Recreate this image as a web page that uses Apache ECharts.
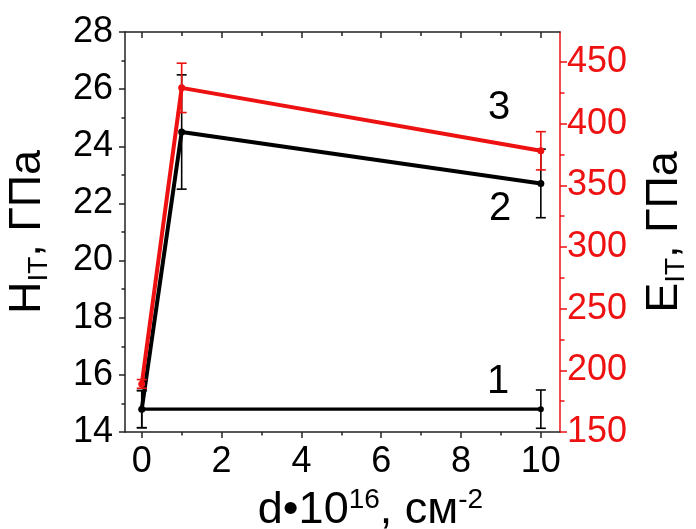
<!DOCTYPE html>
<html>
<head>
<meta charset="utf-8">
<script src="https://cdn.jsdelivr.net/npm/echarts@6/dist/echarts.min.js"></script>
<style>html,body{margin:0;padding:0;background:#fff}#c{width:696px;height:529px}</style>
</head>
<body>
<div id="c"></div>
<script>
// ---- data ----
const dose1 = [0, 10];              // curve 1 x (d·10^16, cm^-2)
const hard1 = [14.8, 14.8];         // curve 1 H_IT, GPa
const hard1Err = [0.65, 0.67];
const dose = [0, 1, 10];            // curves 2 & 3 x
const hard2 = [14.8, 24.5, 22.7];   // curve 2 H_IT, GPa
const hard2Err = [0.65, 2.0, 1.2];
const mod3 = [189, 429, 378];       // curve 3 E_IT, GPa
const mod3Err = [3.5, 20, 15.5];
const xTicks = [0, 2, 4, 6, 8, 10];
const xMinor = [1, 3, 5, 7, 9];
const eTicks = [150, 200, 250, 300, 350, 400, 450];
const eMinor = [175, 225, 275, 325, 375, 425];
const curveTags = ['1', '2', '3'];

const FONT = "'Liberation Sans', Arial, sans-serif";
const RED = '#ee1111';
const BLACK = '#000';

function pairs(xs, ys) { return xs.map((x, i) => [x, ys[i]]); }
function triples(xs, ys, es) { return xs.map((x, i) => [x, ys[i], es[i]]); }

function errRenderer(color) {
  return function (params, api) {
    const x = api.value(0), y = api.value(1), e = api.value(2);
    const t = api.coord([x, y + e]);
    const b = api.coord([x, y - e]);
    const c = 5;
    const st = { stroke: color, lineWidth: 1.6 };
    return {
      type: 'group',
      children: [
        { type: 'line', shape: { x1: t[0], y1: t[1], x2: b[0], y2: b[1] }, style: st },
        { type: 'line', shape: { x1: t[0] - c, y1: t[1], x2: t[0] + c, y2: t[1] }, style: st },
        { type: 'line', shape: { x1: b[0] - c, y1: b[1], x2: b[0] + c, y2: b[1] }, style: st }
      ]
    };
  };
}

const chart = echarts.init(document.getElementById('c'), null, { renderer: 'canvas' });

const xRange = { min: -0.42, max: 10.48 };
const TICKC = '#222';

const option = {
  animation: false,
  backgroundColor: '#fff',
  textStyle: { fontFamily: FONT },
  grid: { left: 125, right: 136, top: 32, bottom: 97, containLabel: false, outerBoundsMode: 'none' },
  xAxis: [
    {
      type: 'value', position: 'bottom', ...xRange,
      axisLine: { show: true, onZero: false, lineStyle: { color: TICKC, width: 1.5 } },
      axisTick: { show: true, inside: false, length: 6, customValues: xTicks, lineStyle: { color: TICKC, width: 1.5 } },
      axisLabel: { show: true, customValues: xTicks, fontSize: 36, color: BLACK, fontFamily: FONT, margin: 12 },
      splitLine: { show: false },
      name: '{m|d•10}{s|16}{m|, см}{s|-2}',
      nameLocation: 'middle', nameGap: 54,
      nameTextStyle: {
        padding: [0, 0, 0, 56],
        rich: {
          m: { fontSize: 45, fontFamily: FONT, color: BLACK, lineHeight: 50 },
          s: { fontSize: 28, fontFamily: FONT, color: BLACK, verticalAlign: 'top', lineHeight: 30 }
        }
      }
    },
    {
      type: 'value', position: 'bottom', ...xRange,
      axisLine: { show: false, onZero: false },
      axisTick: { show: true, inside: false, length: 3.5, customValues: xMinor, lineStyle: { color: TICKC, width: 1.5 } },
      axisLabel: { show: false }, splitLine: { show: false }
    },
    {
      type: 'value', position: 'top', ...xRange,
      axisLine: { show: true, onZero: false, lineStyle: { color: TICKC, width: 1.5 } },
      axisTick: { show: true, inside: true, length: 6, customValues: xTicks, lineStyle: { color: TICKC, width: 1.5 } },
      axisLabel: { show: false }, splitLine: { show: false }
    },
    {
      type: 'value', position: 'top', ...xRange,
      axisLine: { show: false, onZero: false },
      axisTick: { show: true, inside: true, length: 4, customValues: xMinor, lineStyle: { color: TICKC, width: 1.5 } },
      axisLabel: { show: false }, splitLine: { show: false }
    }
  ],
  yAxis: [
    {
      type: 'value', position: 'left', min: 14, max: 28, interval: 2,
      axisLine: { show: true, onZero: false, lineStyle: { color: TICKC, width: 1.5 } },
      axisTick: { show: true, inside: false, length: 6, lineStyle: { color: TICKC, width: 1.5 } },
      minorTick: { show: true, splitNumber: 2, length: 3.5, lineStyle: { color: TICKC, width: 1.5 } },
      axisLabel: { fontSize: 36, color: BLACK, fontFamily: FONT, margin: 12 },
      splitLine: { show: false },
      name: '{m|H}{sub|IT}{m|, ГПа}',
      nameLocation: 'middle', nameRotate: 90, nameGap: 72,
      nameTextStyle: {
        rich: {
          m: { fontSize: 45, fontFamily: FONT, color: BLACK, lineHeight: 50 },
          sub: { fontSize: 28, fontFamily: FONT, color: BLACK, verticalAlign: 'bottom', lineHeight: 30 }
        }
      }
    },
    {
      type: 'value', position: 'right', min: 150, max: 474.3,
      axisLine: { show: true, onZero: false, lineStyle: { color: RED, width: 1.5 } },
      axisTick: { show: true, inside: false, length: 7, customValues: eTicks, lineStyle: { color: RED, width: 1.5 } },
      axisLabel: { customValues: eTicks, fontSize: 36, color: RED, fontFamily: FONT, margin: 7 },
      splitLine: { show: false },
      name: '{m|E}{sub|IT}{m|, ГПа}',
      nameLocation: 'middle', nameRotate: 90, nameGap: 80,
      nameTextStyle: {
        rich: {
          m: { fontSize: 45, fontFamily: FONT, color: BLACK, lineHeight: 50 },
          sub: { fontSize: 28, fontFamily: FONT, color: BLACK, verticalAlign: 'bottom', lineHeight: 30 }
        }
      }
    },
    {
      type: 'value', position: 'right', min: 150, max: 474.3,
      axisLine: { show: false, onZero: false },
      axisTick: { show: true, inside: false, length: 4.5, customValues: eMinor, lineStyle: { color: RED, width: 1.5 } },
      axisLabel: { show: false }, splitLine: { show: false }
    }
  ],
  graphic: [
    { type: 'text', left: 488, top: 88, style: { text: curveTags[2], font: '40px ' + FONT, fill: BLACK } },
    { type: 'text', left: 489, top: 189, style: { text: curveTags[1], font: '40px ' + FONT, fill: BLACK } },
    { type: 'text', left: 487, top: 362, style: { text: curveTags[0], font: '40px ' + FONT, fill: BLACK } }
  ],
  series: [
    {
      name: '1', type: 'line', xAxisIndex: 0, yAxisIndex: 0,
      data: pairs(dose1, hard1),
      symbol: 'circle', symbolSize: 6,
      lineStyle: { color: BLACK, width: 3.2 }, itemStyle: { color: BLACK }, z: 3
    },
    {
      type: 'custom', xAxisIndex: 0, yAxisIndex: 0,
      data: triples(dose1, hard1, hard1Err), renderItem: errRenderer(BLACK), z: 2
    },
    {
      name: '2', type: 'line', xAxisIndex: 0, yAxisIndex: 0,
      data: pairs(dose, hard2),
      symbol: 'circle', symbolSize: 7,
      lineStyle: { color: BLACK, width: 4 }, itemStyle: { color: BLACK }, z: 3
    },
    {
      type: 'custom', xAxisIndex: 0, yAxisIndex: 0,
      data: triples(dose, hard2, hard2Err), renderItem: errRenderer(BLACK), z: 2
    },
    {
      name: '3', type: 'line', xAxisIndex: 0, yAxisIndex: 1,
      data: pairs(dose, mod3),
      symbol: 'circle', symbolSize: 7,
      lineStyle: { color: RED, width: 4 }, itemStyle: { color: RED }, z: 5
    },
    {
      type: 'custom', xAxisIndex: 0, yAxisIndex: 1,
      data: triples(dose, mod3, mod3Err), renderItem: errRenderer(RED), z: 4
    }
  ]
};
chart.setOption(option);
</script>
</body>
</html>
